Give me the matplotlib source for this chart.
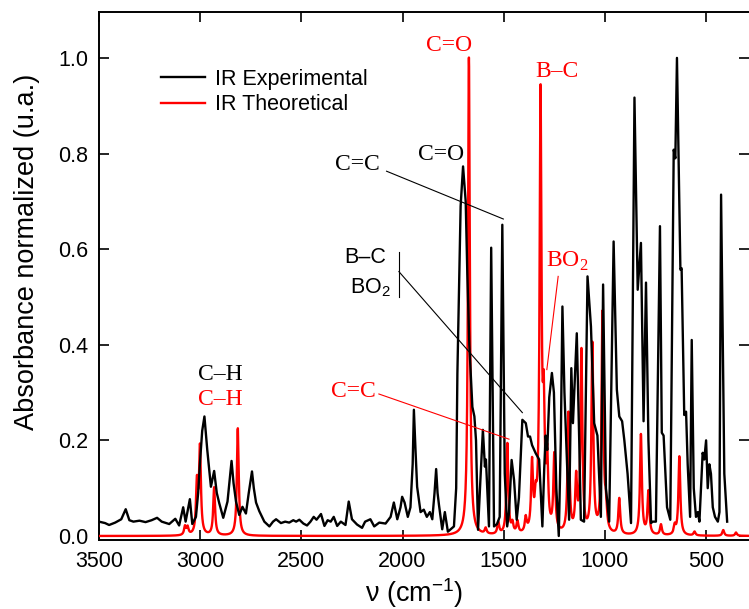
import numpy as np
import matplotlib
matplotlib.use("Agg")
import matplotlib.pyplot as plt

# ---------------- data ----------------
# Experimental IR spectrum (wavenumber in cm-1, normalized absorbance)
exp_wavenumber = [
    3500, 3470, 3450, 3420, 3390, 3368, 3350, 3330, 3300, 3270, 3240, 3213, 3190,
    3153, 3123, 3104, 3084, 3072, 3051, 3039, 3021, 3010, 3000, 2990, 2979, 2965,
    2947, 2931, 2918, 2906, 2886, 2865, 2845, 2835, 2823, 2807, 2791, 2774, 2760,
    2744, 2735, 2724, 2708, 2683, 2658, 2640, 2625, 2601, 2580, 2560, 2540, 2526,
    2510, 2490, 2472, 2455, 2439, 2425, 2403, 2386, 2370, 2355, 2340, 2323, 2305,
    2282, 2266, 2250, 2225, 2200, 2185, 2159, 2140, 2115, 2084, 2059, 2043, 2026,
    2010, 2002, 1990, 1974, 1961, 1950, 1944, 1936, 1928, 1911, 1895, 1880, 1865,
    1853, 1842, 1834, 1827, 1820, 1804, 1791, 1776, 1760, 1746, 1735, 1729, 1713,
    1701, 1688, 1680, 1670, 1655, 1645, 1637, 1627, 1615, 1603, 1593, 1588, 1573,
    1562, 1548, 1533, 1520, 1507, 1495, 1483, 1474, 1461, 1449, 1436, 1425, 1408,
    1391, 1380, 1370, 1360, 1342, 1325, 1309, 1300, 1293, 1285, 1275, 1262, 1252,
    1240, 1228, 1218, 1210, 1200, 1190, 1177, 1166, 1158, 1139, 1127, 1119, 1103,
    1086, 1069, 1053, 1037, 1020, 1009, 995, 979, 957, 941, 929, 915, 904, 888,
    871, 854, 838, 822, 809, 797, 785, 772, 764, 748, 728, 719, 710, 703, 693, 677,
    660, 652, 644, 627, 621, 608, 599, 591, 579, 571, 561, 550, 541, 533, 517, 509,
    500, 492, 484, 476, 467, 456, 442, 434, 426, 410, 396,
]
exp_absorbance = [
    0.030, 0.027, 0.023, 0.028, 0.035, 0.056, 0.033, 0.030, 0.032, 0.029, 0.033, 0.038, 0.030,
    0.025, 0.036, 0.022, 0.060, 0.030, 0.077, 0.025, 0.040, 0.090, 0.160, 0.220, 0.250, 0.180,
    0.103, 0.136, 0.090, 0.069, 0.038, 0.072, 0.157, 0.110, 0.072, 0.044, 0.061, 0.047, 0.090,
    0.135, 0.100, 0.070, 0.052, 0.030, 0.020, 0.030, 0.035, 0.027, 0.030, 0.028, 0.033, 0.030,
    0.034, 0.026, 0.022, 0.030, 0.040, 0.034, 0.046, 0.021, 0.033, 0.030, 0.040, 0.021, 0.030,
    0.023, 0.072, 0.035, 0.024, 0.017, 0.030, 0.035, 0.020, 0.028, 0.026, 0.040, 0.070, 0.035,
    0.060, 0.082, 0.070, 0.040, 0.060, 0.150, 0.264, 0.180, 0.103, 0.050, 0.055, 0.040, 0.050,
    0.035, 0.090, 0.140, 0.090, 0.065, 0.014, 0.050, 0.009, 0.015, 0.020, 0.100, 0.340, 0.690,
    0.773, 0.700, 0.550, 0.400, 0.270, 0.250, 0.200, 0.013, 0.120, 0.222, 0.145, 0.160, 0.020,
    0.603, 0.020, 0.025, 0.040, 0.651, 0.131, 0.020, 0.048, 0.159, 0.117, 0.034, 0.080, 0.243,
    0.236, 0.208, 0.208, 0.190, 0.173, 0.160, 0.020, 0.140, 0.210, 0.180, 0.290, 0.341, 0.300,
    0.100, 0.000, 0.200, 0.480, 0.300, 0.187, 0.034, 0.351, 0.236, 0.424, 0.200, 0.034, 0.030,
    0.543, 0.438, 0.236, 0.210, 0.040, 0.526, 0.100, 0.030, 0.616, 0.306, 0.250, 0.240, 0.200, 0.130,
    0.027, 0.917, 0.515, 0.613, 0.240, 0.530, 0.200, 0.027, 0.030, 0.030, 0.648, 0.216, 0.210, 0.150, 0.060, 0.034,
    0.808, 0.790, 1.000, 0.557, 0.560, 0.253, 0.260, 0.150, 0.040, 0.410, 0.100, 0.040, 0.050, 0.030, 0.174, 0.160,
    0.200, 0.100, 0.150, 0.130, 0.060, 0.040, 0.030, 0.050, 0.714, 0.130, 0.030,
]

# Theoretical (calculated) bands: positions (cm-1) and normalized intensities
theo_centers = [3075, 3062, 3016, 3001, 2931, 2814,
                1672, 1589, 1527, 1482, 1457, 1432, 1391, 1360, 1342, 1318, 1302,
                1285, 1250, 1180, 1142, 1116, 1062, 1012, 995, 929, 822, 785,
                723, 655, 632, 557, 415, 352]
theo_heights = [0.018, 0.016, 0.105, 0.180, 0.100, 0.225,
                1.000, 0.012, 0.025, 0.190, 0.020, 0.025, 0.030, 0.140, 0.050, 0.910, 0.230,
                0.140, 0.160, 0.250, 0.110, 0.380, 0.395, 0.460, 0.050, 0.075, 0.210, 0.090,
                0.022, 0.018, 0.165, 0.008, 0.012, 0.007]
theo_fwhm = 11.0

xticks = [3500, 3000, 2500, 2000, 1500, 1000, 500]
yticks = [0.0, 0.2, 0.4, 0.6, 0.8, 1.0]

# ---------------- figure ----------------
plt.rcParams["font.family"] = ["Liberation Sans", "DejaVu Sans"]
plt.rcParams["mathtext.fontset"] = "custom"
plt.rcParams["mathtext.rm"] = "Liberation Sans"

fig = plt.figure(figsize=(7.49, 6.09), dpi=100)
ax = fig.add_axes([99 / 749, 69 / 609, 650 / 749, 528 / 609])

# experimental (drawn above the theoretical curve)
ax.plot(exp_wavenumber, exp_absorbance, color="black", lw=1.7,
        label="IR Experimental", zorder=4, solid_joinstyle="round")

# theoretical: Lorentzian broadening of the calculated bands
grid = np.linspace(250, 3500, 8000)
hw = theo_fwhm / 2.0
theo = np.zeros_like(grid)
for c, h in zip(theo_centers, theo_heights):
    theo += h / (1.0 + ((grid - c) / hw) ** 2)
ax.plot(grid, theo, color="#ff0000", lw=1.7, label="IR Theoretical", zorder=3)

ax.set_xlim(3500, 288)
ax.set_ylim(-0.0084, 1.096)
ax.set_xticks(xticks)
ax.set_yticks(yticks)
ax.set_yticklabels([f"{v:.1f}" for v in yticks])

for side in ["left", "top", "bottom"]:
    ax.spines[side].set_linewidth(1.4)
ax.spines["right"].set_visible(False)

ax.tick_params(axis="both", which="major", direction="in", length=7, width=1.2,
               labelsize=15.5, pad=8, top=True, right=True)

ax.set_ylabel("Absorbance normalized (u.a.)", fontsize=19.5)
ax.yaxis.set_label_coords(-0.091, 0.5 + (276 - 252) / 528)
ax.set_xlabel("ν (cm$^{\\mathregular{-1}}$)", fontsize=19.5)
ax.xaxis.set_label_coords((414 - 99) / 650, -0.068)

leg = ax.legend(loc="upper left", bbox_to_anchor=(0.0954, 0.8925), frameon=False,
                fontsize=15.5, handlelength=2.05, handletextpad=0.45,
                labelspacing=0.2, borderpad=0, borderaxespad=0)

# ---------------- annotations ----------------
serif = ["Liberation Serif", "DejaVu Serif"]
fs_ann = 17
red = "#ff0000"

ax.text(1810, 0.798, "C=O", family=serif, fontsize=fs_ann, color="black",
        ha="center", va="center")
ax.text(1770, 1.026, "C=O", family=serif, fontsize=fs_ann, color=red,
        ha="center", va="center")
ax.text(1235, 0.972, "B–C", family=serif, fontsize=fs_ann, color=red,
        ha="center", va="center")
ax.text(2223, 0.777, "C=C", family=serif, fontsize=fs_ann, color="black",
        ha="center", va="center")
ax.plot([2079, 1502], [0.763, 0.663], color="black", lw=0.8, zorder=5)

ax.text(2183, 0.582, "B–C", fontsize=15.5, color="black", ha="center", va="center")
ax.text(2159, 0.519, "BO$_{\\mathregular{2}}$", fontsize=15.5, color="black",
        ha="center", va="center")
ax.plot([2018, 2018], [0.593, 0.500], color="black", lw=0.8, zorder=5)
ax.plot([2018, 1408], [0.553, 0.258], color="black", lw=0.8, zorder=5)

ax.text(1188, 0.574, "BO$_{\\mathregular{2}}$", family=serif, fontsize=fs_ann,
        color=red, ha="center", va="center")
ax.plot([1231, 1287], [0.543, 0.348], color=red, lw=0.8, zorder=5)

ax.text(2243, 0.302, "C=C", family=serif, fontsize=fs_ann, color=red,
        ha="center", va="center")
ax.plot([2117, 1474], [0.297, 0.2025], color=red, lw=0.8, zorder=5)

ax.text(2902, 0.337, "C–H", family=serif, fontsize=fs_ann, color="black",
        ha="center", va="center")
ax.text(2899, 0.285, "C–H", family=serif, fontsize=fs_ann, color=red,
        ha="center", va="center")

fig.savefig("out.png", dpi=100)
